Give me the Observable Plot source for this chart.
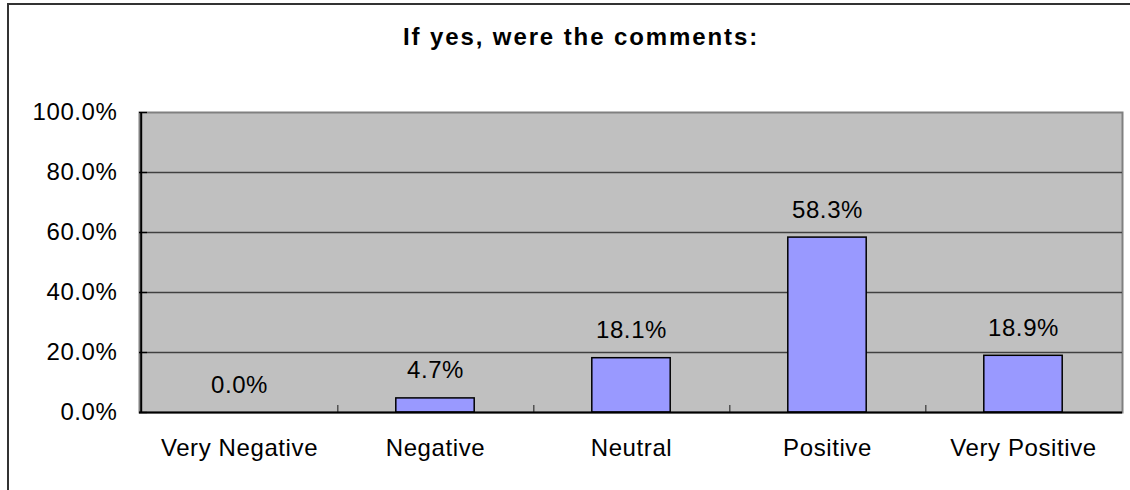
<!DOCTYPE html>
<html><head><meta charset="utf-8">
<script src="https://cdn.jsdelivr.net/npm/d3@7"></script>
<script src="https://cdn.jsdelivr.net/npm/@observablehq/plot@0.6"></script>
<style>
body{margin:0;background:#fff;}
#wrap{position:relative;width:1130px;height:490px;overflow:hidden;font-family:"Liberation Sans",Arial,sans-serif;background:#fff;}
#border{position:absolute;left:7px;top:3px;width:1200px;height:600px;border:2px solid #333;}
#title{position:absolute;left:0;top:25px;width:1162px;text-align:center;font-weight:bold;font-size:24px;line-height:24px;letter-spacing:1.9px;color:#000;}
#chart{position:absolute;left:0;top:70px;}
#chart svg text{letter-spacing:0.6px;}
</style></head><body>
<div id="wrap"><div id="border"></div><div id="title">If yes, were the comments:</div><div id="chart"></div></div>
<script>
const categories = ["Very Negative", "Negative", "Neutral", "Positive", "Very Positive"];
const values = [0.0, 4.7, 18.1, 58.3, 18.9];
const yTicks = [0, 20, 40, 60, 80, 100];
const labels = values.map(v => v.toFixed(1) + "%");
const data = categories.map((c, i) => ({category: c, value: values[i], label: labels[i]}));

const W = 1130, H = 420, mL = 139, mR = 8, mT = 42, mB = 78;
const band = (W - mL - mR) / categories.length;
const barW = 79;
const inset = (band - barW) / 2;
const pxPerUnit = (H - mT - mB) / 100;

const chart = Plot.plot({
  width: W, height: H,
  marginLeft: mL, marginRight: mR, marginTop: mT, marginBottom: mB,
  style: {fontFamily: "'Liberation Sans', Arial, sans-serif", fontSize: "24px", color: "#000", background: "transparent", overflow: "visible"},
  x: {domain: categories, padding: 0, label: null},
  y: {domain: [0, 100], label: null},
  marks: [
    Plot.frame({fill: "#C0C0C0", stroke: "#808080", strokeWidth: 2}),
    Plot.ruleY(yTicks.slice(1, -1), {stroke: "#404040", strokeWidth: 1.3}),
    Plot.ruleY(yTicks, {stroke: "#000", strokeWidth: 1.3, insetRight: W - mL - mR - 8}),
    Plot.ruleX(categories.slice(0, -1), {dx: band / 2, y1: 0, y2: 7 / pxPerUnit, stroke: "#404040", strokeWidth: 1.3}),
    Plot.barY(data.filter(d => d.value > 0), {x: "category", y: "value", fill: "#9999FF", stroke: "#000", strokeWidth: 1.5, insetLeft: inset, insetRight: inset}),
    Plot.ruleY([0], {stroke: "#000", strokeWidth: 2}),
    Plot.ruleX([categories[0]], {dx: -band / 2, stroke: "#000", strokeWidth: 2}),
    Plot.text(data, {x: "category", y: "value", text: "label", dy: -20, lineAnchor: "bottom", fill: "#000"}),
    Plot.axisY(yTicks, {tickSize: 0, tickPadding: 22, tickFormat: d => d.toFixed(1) + "%", label: null}),
    Plot.axisX({tickSize: 0, tickPadding: 26, label: null})
  ]
});
document.getElementById("chart").appendChild(chart);
</script>
</body></html>
